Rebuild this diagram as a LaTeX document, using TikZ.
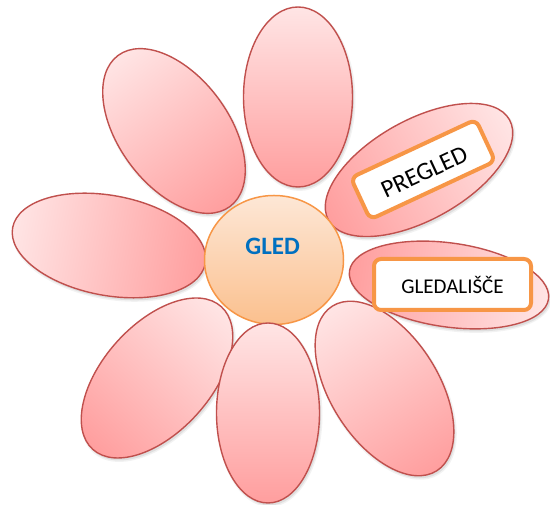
\documentclass[tikz,border=0pt]{standalone}
\usepackage{fontspec}
\setmainfont{Carlito}
\usetikzlibrary{shapes.geometric}
\definecolor{petallight}{RGB}{255,229,229}
\definecolor{petaldark}{RGB}{255,158,158}
\definecolor{petalline}{RGB}{192,80,77}
\definecolor{coreorange}{RGB}{247,150,70}
\definecolor{coretop}{RGB}{253,231,214}
\definecolor{corebottom}{RGB}{251,192,142}
\definecolor{gledblue}{RGB}{0,112,192}
\newcommand\drawpetal[7]{%
  \begin{scope}[transform canvas={shift={(#1+1.5,#2-2.5)},rotate=#3}]
    \fill[black,opacity=0.05] (0,0) ellipse [x radius=#4+1.5, y radius=#5+1.5];
    \fill[black,opacity=0.08] (0,0) ellipse [x radius=#4, y radius=#5];
  \end{scope}
  \begin{scope}[transform canvas={shift={(#1,#2)},rotate=#3}]
    \shade[petalstyle, left color=#6, right color=#7] (0,0) ellipse [x radius=#4, y radius=#5];
  \end{scope}}
\tikzset{
  petalstyle/.style={draw=petalline, line width=1.4pt},
  wordbox/.style={draw=coreorange, line width=4pt, rounded corners=7pt, fill=white, inner sep=0pt, text=black},
  corestyle/.style={ellipse, draw=coreorange, line width=1.5pt, top color=coretop, bottom color=corebottom, inner sep=0pt}
}
\begin{document}
\begin{tikzpicture}[x=1pt,y=1pt]
\useasboundingbox (0,0) rectangle (550,505);
% petals
\drawpetal{174}{374}{-53.5}{94}{55}{petallight}{petaldark}
\drawpetal{109}{259.5}{-10.5}{98}{50}{petallight}{petaldark}
\drawpetal{298}{408}{90}{90}{54.5}{petaldark}{petallight}
\drawpetal{419}{335}{29}{103.5}{50}{petaldark}{petallight}
\drawpetal{449}{220}{-8}{100.5}{42}{petaldark}{petallight}
\drawpetal{157}{127}{48}{96}{54}{petaldark}{petallight}
\drawpetal{384.5}{116.5}{-57.6}{97.5}{54}{petallight}{petaldark}
% centre
\node[corestyle, minimum width=139pt, minimum height=129pt] (core) at (274,245) {};
\node[font=\bfseries\fontsize{25}{28}\selectfont, text=gledblue] (gled) at (272.7,258.3) {GLED};
\drawpetal{268}{92}{90}{90}{51.5}{petaldark}{petallight}
% word boxes
\node[wordbox, rotate=25, minimum width=138pt, minimum height=46pt, font=\fontsize{25}{28}\selectfont] (pregled) at (423,335.5) {\raisebox{-3pt}[\height][\depth]{PREGLED}};
\node[wordbox, minimum width=157pt, minimum height=51pt, font=\fontsize{21}{24}\selectfont] (gledalisce) at (452.5,220.5) {GLEDALIŠČE};
\end{tikzpicture}
\end{document}
